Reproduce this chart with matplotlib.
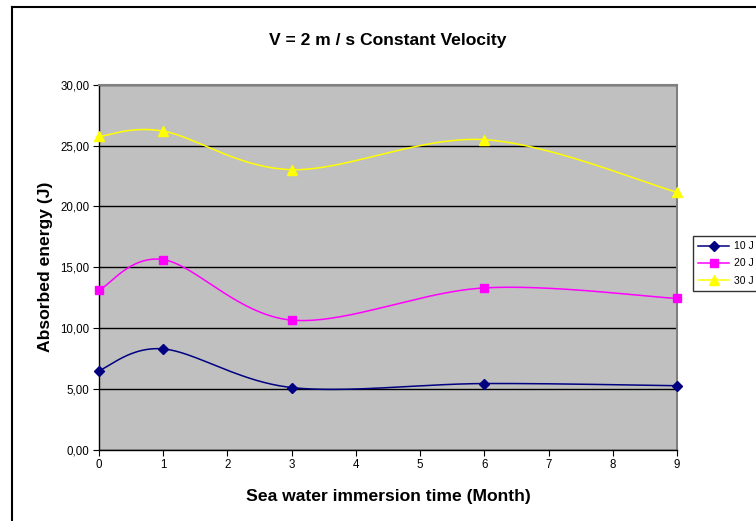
import numpy as np
import matplotlib
matplotlib.use("Agg")
import matplotlib.pyplot as plt
from matplotlib.lines import Line2D

plt.rcParams['font.family'] = ['Liberation Sans', 'DejaVu Sans']

months = [0, 1, 3, 6, 9]
e10 = [6.50, 8.28, 5.10, 5.43, 5.25]
e20 = [13.10, 15.63, 10.65, 13.30, 12.43]
e30 = [25.76, 26.20, 23.03, 25.50, 21.17]
labels = ['10 J', '20 J', '30 J']
colors = ['#000080', '#FF00FF', '#FFFF00']
markers = ['D', 's', '^']
msizes = [5, 6, 7]


def smooth(xs, ys, n=40):
    # excel style smoothed line (catmull-rom via bezier)
    p = np.column_stack([xs, ys]).astype(float)
    p = np.vstack([p[0], p, p[-1]])
    out = []
    t = np.linspace(0, 1, n)[:, None]
    for i in range(1, len(p) - 2):
        b0 = p[i]
        b3 = p[i + 1]
        b1 = p[i] + (p[i + 1] - p[i - 1]) / 6
        b2 = p[i + 1] - (p[i + 2] - p[i]) / 6
        seg = ((1 - t) ** 3) * b0 + 3 * ((1 - t) ** 2) * t * b1 + 3 * (1 - t) * t ** 2 * b2 + t ** 3 * b3
        out.append(seg)
    c = np.vstack(out)
    return c[:, 0], c[:, 1]


fig = plt.figure(figsize=(7.56, 5.21), dpi=100)
ax = fig.add_axes([0.131, 0.1372, 0.7645, 0.6997])
ax.set_facecolor('#C0C0C0')

for ys, lab, col, mk, ms in zip([e10, e20, e30], labels, colors, markers, msizes):
    sx, sy = smooth(months, ys)
    ax.plot(sx, sy, color=col, lw=1.1, zorder=3)
    ax.plot(months, ys, ls='none', marker=mk, ms=ms, color=col, zorder=4, clip_on=False)

ax.set_xlim(0, 9)
ax.set_ylim(0, 30)
ax.set_xticks(range(10))
ax.set_yticks(np.arange(0, 31, 5))
ax.set_yticklabels([f"{v:.2f}".replace('.', ',') for v in np.arange(0, 31, 5)])
ax.tick_params(labelsize=8.3, direction='out', length=4, width=0.8, pad=3)
ax.yaxis.grid(True, color='black', lw=1)
ax.set_axisbelow(True)
for s in ['top', 'right']:
    ax.spines[s].set_color('#808080')
    ax.spines[s].set_linewidth(1.5)
for s in ['left', 'bottom']:
    ax.spines[s].set_color('black')
    ax.spines[s].set_linewidth(1)

ax.set_title('V = 2 m / s Constant Velocity', fontsize=12.6, fontweight='bold', pad=29)
ax.set_xlabel('Sea water immersion time (Month)', fontsize=12.6, fontweight='bold', labelpad=13)
ax.set_ylabel('Absorbed energy (J)', fontsize=12.6, fontweight='bold', labelpad=5)

handles = [Line2D([0], [0], color=c, marker=m, ms=s, lw=1.1) for c, m, s in zip(colors, markers, msizes)]
leg = fig.legend(handles, labels, loc='upper left', bbox_to_anchor=(693 / 756, 1 - 236 / 521),
                 fontsize=7.5, frameon=True, fancybox=False, edgecolor='black',
                 handlelength=3, borderpad=0.5, labelspacing=0.7, handletextpad=0.4,
                 borderaxespad=0)
leg.get_frame().set_linewidth(1)

# outer chart frame (cut at right and bottom)
fig.add_artist(Line2D([12 / 756, 12 / 756], [0, 1 - 7 / 521], color='black', lw=1.5, transform=fig.transFigure))
fig.add_artist(Line2D([12 / 756, 1], [1 - 7 / 521, 1 - 7 / 521], color='black', lw=1.5, transform=fig.transFigure))

fig.savefig('out.png', dpi=100)
